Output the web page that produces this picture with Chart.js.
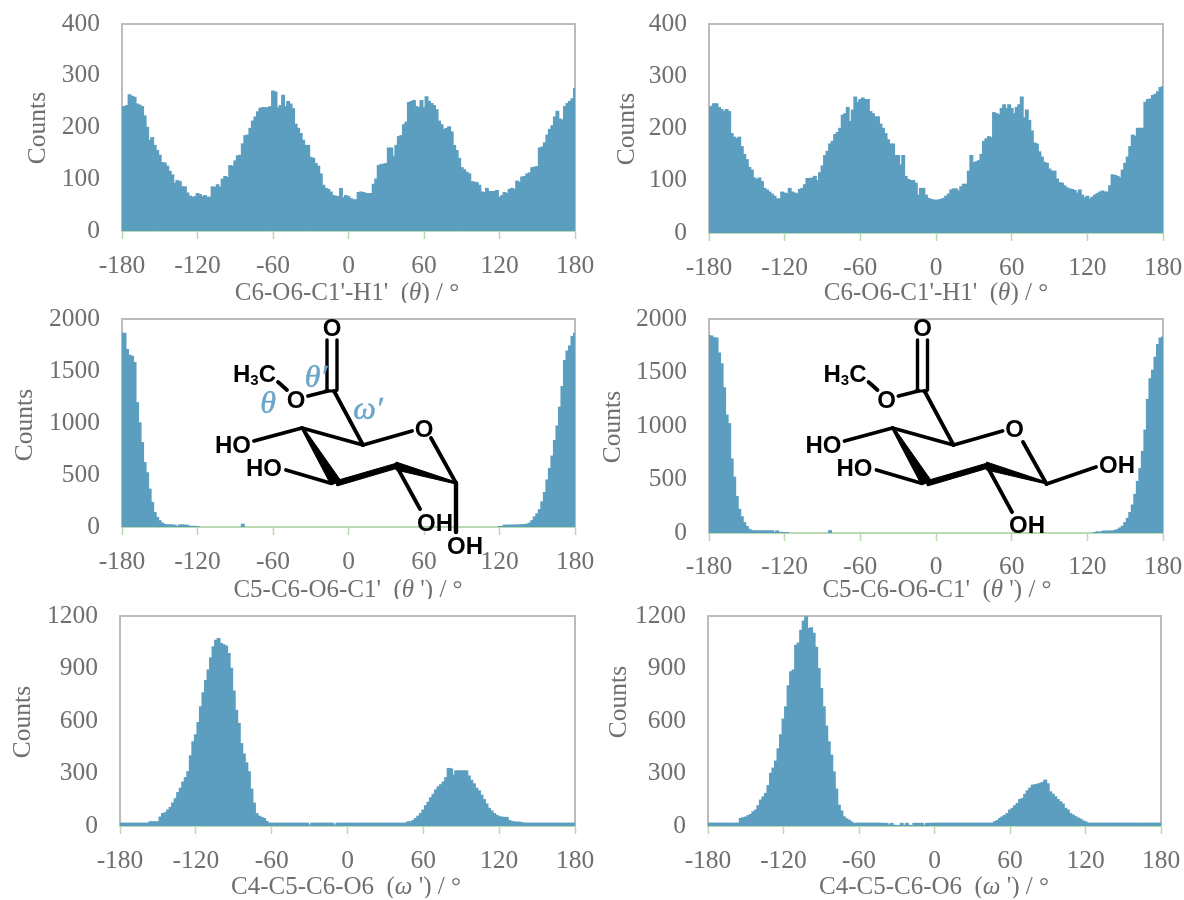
<!DOCTYPE html>
<html>
<head>
<meta charset="utf-8">
<script src="https://cdn.jsdelivr.net/npm/chart.js@4"></script>
<style>
html,body{margin:0;padding:0;background:#fff;width:1184px;height:900px;overflow:hidden}
#stage{position:relative;width:1184px;height:900px}
canvas{position:absolute}
svg{position:absolute;left:0;top:0}
.lbl{font-family:"Liberation Sans";font-weight:bold;font-size:24px;fill:#000}
.ang{font-family:"Liberation Serif";font-style:italic;font-size:32px;fill:#6aa6c8;stroke:#6aa6c8;stroke-width:.5}
</style>
</head>
<body>
<div id="stage">
<svg id="mol" width="1184" height="900" style="z-index:5"></svg>
</div>
<script>
const xTickLabels = ["-180","-120","-60","0","60","120","180"];
const binCentres = [];
for (let d = -180; d <= 180; d += 2) binCentres.push(String(d));

const thetaA = [
240,240,242,263,260,258,245,243,240,222,
200,175,180,165,155,146,132,131,125,115,
108,92,97,95,85,85,73,67,65,66,
72,70,66,68,65,65,85,84,89,84,
100,105,103,126,125,135,145,146,168,184,
185,198,212,220,230,237,238,238,238,240,
270,268,238,242,262,240,250,245,236,206,
198,188,175,165,165,142,140,130,125,110,
88,82,80,75,68,67,66,82,64,68,
66,62,60,60,74,75,74,72,72,72,
90,100,126,128,129,130,160,160,144,165,
182,184,205,210,248,250,252,240,238,252,
238,259,250,246,242,234,212,205,196,198,
201,191,165,155,140,122,118,113,110,95,
94,93,88,75,74,82,76,76,76,78,
65,68,74,72,80,82,80,96,94,104,
105,110,112,122,123,124,160,162,170,185,
196,203,220,231,216,214,240,246,250,255,
275];
const thetaB = [
240,242,247,247,240,236,232,236,232,190,
183,180,183,165,150,140,125,120,105,102,
105,98,85,82,78,74,70,65,65,78,
76,75,85,78,76,75,83,85,92,104,
104,105,108,100,115,128,148,156,170,175,
188,192,200,225,228,240,213,235,260,250,
255,258,255,255,232,228,222,222,208,200,
190,178,170,170,148,148,130,148,108,102,
100,100,95,72,85,85,72,66,64,63,
62,63,64,66,70,74,82,84,84,80,
88,93,93,118,148,134,136,138,150,175,
180,184,182,230,228,226,238,245,238,245,
238,228,240,245,260,220,235,215,195,172,
170,155,145,135,133,122,118,118,103,96,
95,90,86,84,83,81,76,82,72,67,
70,65,68,72,75,78,80,78,78,90,
111,110,108,105,120,133,145,165,187,185,
200,200,200,250,255,256,263,265,270,278,
280];
const thetaPrimeA = [
1860,1860,1705,1650,1640,1580,1194,1000,810,618,
520,362,234,138,90,58,35,22,20,18,
18,15,3,18,18,16,15,2,5,4,
3,0,0,0,0,0,0,0,0,0,
0,0,0,0,0,0,0,0,25,0,
0,0,0,0,0,0,0,0,0,0,
0,0,0,0,0,0,0,0,0,0,
0,0,0,0,0,0,0,0,0,0,
0,0,0,0,0,0,0,0,0,0,
0,0,0,0,0,0,0,0,0,0,
0,0,0,0,0,0,0,0,0,0,
0,0,0,0,0,0,0,0,0,0,
0,0,0,0,0,0,0,0,0,0,
0,0,0,0,0,0,0,0,0,0,
0,0,0,0,0,0,0,0,0,0,
2,3,15,16,16,16,16,18,18,20,
22,26,35,60,95,125,165,240,330,450,
560,680,830,970,1150,1350,1600,1690,1740,1830,
1860];
const thetaPrimeB = [
1844,1840,1822,1820,1680,1580,1355,1100,1020,690,
520,340,220,150,95,60,32,20,18,18,
18,18,18,18,18,18,5,18,5,4,
3,2,0,0,0,0,0,0,0,0,
0,0,0,0,0,0,0,0,20,0,
0,0,0,0,0,0,0,0,0,0,
0,0,0,0,0,0,0,0,0,0,
0,0,0,0,0,0,0,0,0,0,
0,0,0,0,0,0,0,0,0,0,
0,0,0,0,0,0,0,0,0,0,
0,0,0,0,0,0,0,0,0,0,
0,0,0,0,0,0,0,0,0,0,
0,0,0,0,0,0,0,0,0,0,
0,0,0,0,0,0,0,0,0,0,
0,0,0,0,0,0,0,0,0,0,
0,0,0,3,10,4,14,16,16,16,
18,22,30,45,62,95,135,190,260,360,
480,600,760,960,1245,1440,1520,1640,1760,1820,
1830];
const omegaA = [
15,15,15,15,15,15,15,15,15,15,
15,15,23,23,23,23,50,70,75,90,
105,130,155,190,215,250,275,309,400,480,
520,590,680,760,830,890,960,1023,1060,1070,
1042,1035,1027,985,900,770,660,585,470,410,
360,309,210,130,70,55,48,42,25,15,
15,15,15,15,15,15,15,15,15,15,
15,15,15,15,15,5,15,15,15,15,
15,15,15,15,15,5,15,15,15,15,
15,15,15,15,15,15,15,15,15,15,
15,15,15,15,15,15,15,15,15,15,
15,15,15,15,23,23,30,42,55,70,
90,115,135,160,180,205,223,235,250,275,
328,325,290,314,314,314,314,314,285,260,
240,215,200,175,150,125,100,85,70,60,
52,50,48,48,30,25,22,21,21,18,
15,15,15,15,15,15,15,15,15,15,
15,15,15,15,15,15,15,15,15,15,
15];
const omegaB = [
15,15,15,15,15,15,15,15,15,15,
15,15,15,42,46,50,58,65,80,90,
115,147,165,185,230,300,330,370,440,520,
610,680,800,880,890,1032,1045,1118,1170,1194,
1128,1132,1100,1020,899,785,680,570,480,404,
308,210,118,85,51,40,32,22,13,15,
15,15,15,15,15,15,15,15,15,14,
14,14,5,14,3,2,2,14,3,14,
3,2,14,14,14,14,3,14,14,14,
15,15,15,15,15,15,15,15,15,15,
15,15,15,15,15,15,15,15,15,15,
15,15,15,15,23,30,42,51,60,70,
90,100,115,128,150,156,180,200,215,232,
235,238,242,248,261,240,194,180,166,150,
137,125,100,90,70,61,52,44,38,28,
23,15,15,15,15,15,15,15,15,15,
15,15,15,15,15,15,15,15,15,15,
15,15,15,15,15,15,15,15,15,15,
15];

const yAxisMax = [400, 400, 2000, 2000, 1200, 1200];
const yAxisStep = [100, 100, 500, 500, 300, 300];
const xTitleA = ["C6-O6-C1'-H1'  (", "\u03B8", ") / \u00B0"];
const xTitleB = ["C5-C6-O6-C1'  (", "\u03B8", " ') / \u00B0"];
const xTitleC = ["C4-C5-C6-O6  (", "\u03C9", " ') / \u00B0"];
const yTitle = "Counts";

const BLUE = "#5c9ebf", INK = "#6f6f6f", GREEN = "#b9d9b2", FRAME = "#bcbcbc";
const FONT_FAMILY = "'Liberation Serif'";
const FS = 25.5, TFS = 25;

const panels = [
 {l:122,r:575,t:24,b:231, data:thetaA,      xt:xTitleA, xtx:347, xty:293, ytx:38,  yty:128, pad:12, n:0},
 {l:709,r:1163,t:24,b:233,data:thetaB,      xt:xTitleA, xtx:936, xty:293, ytx:627, yty:129, pad:12, n:1},
 {l:122,r:575,t:319,b:527,data:thetaPrimeA, xt:xTitleB, xtx:348, xty:590, ytx:25,  yty:425, pad:12, n:2},
 {l:709,r:1163,t:319,b:533,data:thetaPrimeB,xt:xTitleB, xtx:937, xty:590, ytx:613, yty:427, pad:11, n:3},
 {l:120,r:575,t:616,b:826,data:omegaA,      xt:xTitleC, xtx:346, xty:887, ytx:23,  yty:722, pad:12, n:4},
 {l:708,r:1161,t:616,b:826,data:omegaB,     xt:xTitleC, xtx:934, xty:887, ytx:619, yty:702, pad:12, n:5}
];

const ML = 118, MR = 24, MT = 18, MB = 72;

function noPadding(s) { s.paddingTop = 0; s.paddingBottom = 0; s.paddingLeft = 0; s.paddingRight = 0; }

const framePlugin = {
  id: "frame",
  beforeDatasetsDraw(c) {
    const a = c.chartArea, x = c.ctx;
    x.save();
    x.strokeStyle = FRAME; x.lineWidth = 2;
    x.beginPath();
    x.moveTo(a.left, a.bottom); x.lineTo(a.left, a.top);
    x.lineTo(a.right, a.top); x.lineTo(a.right, a.bottom);
    x.stroke();
    x.restore();
  },
  afterDraw(c, args, o) {
    const x = c.ctx, cv = o.origin;
    x.save();
    x.fillStyle = INK;
    x.textBaseline = "middle";
    x.textAlign = "left";
    const fonts = [`${TFS}px ${FONT_FAMILY}`, `italic ${TFS}px ${FONT_FAMILY}`, `${TFS}px ${FONT_FAMILY}`];
    let w = 0;
    o.xt.forEach((s, i) => { x.font = fonts[i]; w += x.measureText(s).width; });
    let px = o.xtx - cv.x - w / 2;
    o.xt.forEach((s, i) => { x.font = fonts[i]; x.fillText(s, px, o.xty - cv.y); px += x.measureText(s).width; });
    x.font = `${FS}px ${FONT_FAMILY}`;
    x.textAlign = "center";
    x.translate(o.ytx - cv.x, o.yty - cv.y);
    x.rotate(-Math.PI / 2);
    x.fillText(yTitle, 0, 0);
    x.restore();
  }
};

const stage = document.getElementById("stage");
panels.forEach(p => {
  const cv = document.createElement("canvas");
  const x0 = p.l - ML, y0 = p.t - MT;
  const W = p.r - p.l + ML + MR, H = p.b - p.t + MT + MB;
  cv.width = W; cv.height = H;
  cv.style.left = x0 + "px"; cv.style.top = y0 + "px";
  cv.style.width = W + "px"; cv.style.height = H + "px";
  stage.appendChild(cv);
  new Chart(cv, {
    type: "bar",
    data: { labels: binCentres, datasets: [{ data: p.data, backgroundColor: BLUE, borderWidth: 0, barPercentage: 1, categoryPercentage: 1,
      inflateAmount: ctx => (ctx.raw > 0 ? 0.7 : 0) }] },
    plugins: [framePlugin],
    options: {
      responsive: false, animation: false, maintainAspectRatio: false,
      layout: { autoPadding: false, padding: { top: MT, right: MR, left: 0, bottom: 0 } },
      plugins: {
        legend: { display: false }, tooltip: { enabled: false },
        frame: { xt: p.xt, xtx: p.xtx, xty: p.xty, ytx: p.ytx, yty: p.yty, origin: { x: x0, y: y0 } }
      },
      scales: {
        x: {
          type: "category", offset: false,
          afterBuildTicks(s) { s.ticks = s.ticks.filter(t => xTickLabels.includes(s.getLabelForValue(t.value))); },
          afterFit(s) { s.height = MB; noPadding(s); },
          grid: { offset: false, drawOnChartArea: false, drawTicks: true, tickLength: 8, tickColor: GREEN, tickWidth: 1.5 },
          border: { color: GREEN, width: 2 },
          ticks: {
            autoSkip: false, maxRotation: 0, minRotation: 0, padding: p.pad, color: INK,
            font: { family: FONT_FAMILY, size: FS },
            callback(v) { return this.getLabelForValue(v); }
          }
        },
        y: {
          min: 0, max: yAxisMax[p.n],
          afterFit(s) { s.width = ML; noPadding(s); },
          grid: { display: false, drawTicks: false },
          border: { display: false },
          ticks: { stepSize: yAxisStep[p.n], padding: 22, color: INK, font: { family: FONT_FAMILY, size: FS }, callback(v) { return String(v); } }
        }
      }
    }
  });
});

/* molecule overlay */
const NS = "http://www.w3.org/2000/svg";
const svg = document.getElementById("mol");
function el(name, attrs, text) {
  const e = document.createElementNS(NS, name);
  for (const k in attrs) e.setAttribute(k, attrs[k]);
  if (text !== undefined) e.textContent = text;
  svg.appendChild(e);
  return e;
}
function bond(x1, y1, x2, y2, w) { el("line", {x1, y1, x2, y2, stroke: "#000", "stroke-width": w || 3.8, "stroke-linecap": "round"}); }
function poly(pts) { el("polygon", {points: pts, fill: "#000", stroke: "#000", "stroke-width": 1, "stroke-linejoin": "round"}); }
function label(t, cx, cy, cls) { el("text", {x: cx, y: cy, "text-anchor": "middle", "dominant-baseline": "central", class: cls || "lbl"}, t); }
function h3c(x, y) {
  const t = el("text", {x, y, class: "lbl", "dominant-baseline": "central"});
  const a = document.createElementNS(NS, "tspan"); a.textContent = "H"; t.appendChild(a);
  const b = document.createElementNS(NS, "tspan"); b.textContent = "3"; b.setAttribute("font-size", "15"); b.setAttribute("dy", "6"); t.appendChild(b);
  const c = document.createElementNS(NS, "tspan"); c.textContent = "C"; c.setAttribute("dy", "-6"); t.appendChild(c);
}
function molecule(dx) {
  const X = v => v + dx;
  label("O", X(332), 327);
  bond(X(327), 340, X(327), 390, 3.4); bond(X(337), 340, X(337), 390, 3.4);
  h3c(X(233), 373);
  bond(X(278), 382, X(287), 390);
  label("O", X(296), 399);
  bond(X(308), 396, X(328), 391);
  bond(X(325), 391, X(336), 391, 3);
  bond(X(334), 391, X(363), 445);
  bond(X(363), 445, X(412), 431);
  label("O", X(424), 428);
  bond(X(302), 428, X(363), 445);
  label("HO", X(233), 444);
  bond(X(254), 441, X(302), 428);
  label("HO", X(264), 467);
  bond(X(286), 470, X(330), 483);
  poly(`${X(301)},428 ${X(303)},427 ${X(341)},481 ${X(331)},485`);
  poly(`${X(335)},481 ${X(397)},463 ${X(398)},468 ${X(337)},486`);
  poly(`${X(396)},462 ${X(456)},482 ${X(456)},484 ${X(396)},470`);
}
molecule(0);
bond(456, 483, 431, 438);
bond(397, 467, 420, 509);
label("OH", 435, 522);
bond(456, 483, 456, 532, 4.4);
label("OH", 465, 545);
label("\u03B8\u2032", 316, 376, "ang");
label("\u03B8", 268, 402, "ang");
label("\u03C9\u2032", 368, 408, "ang");
molecule(590.5);
bond(1046.5, 484, 1023, 442);
bond(1046.5, 484, 1096, 467);
label("OH", 1117, 464);
bond(987.5, 467, 1012, 512);
label("OH", 1027, 524);
</script>
</body>
</html>
